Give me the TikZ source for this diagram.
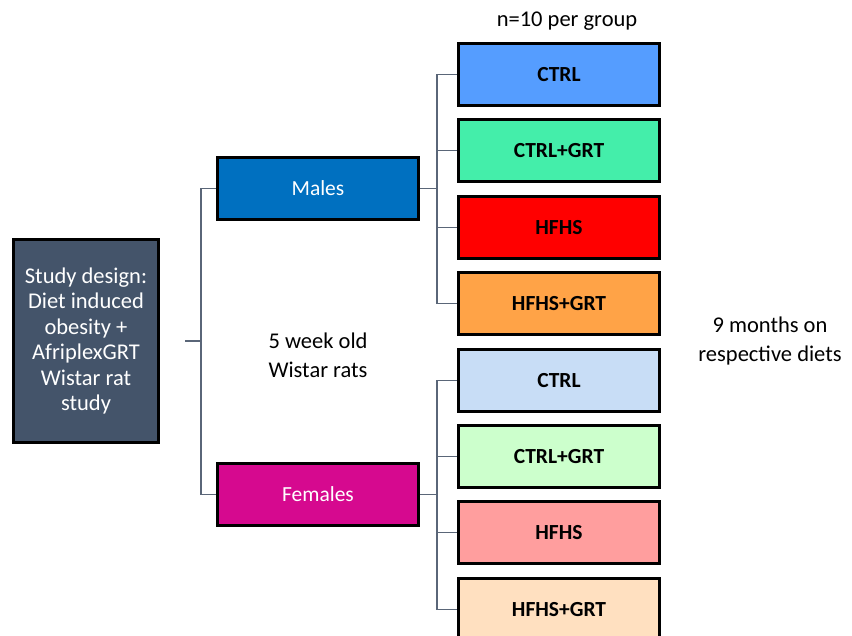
\documentclass[tikz,border=0pt]{standalone}
\usepackage{fontspec}
\setmainfont{Carlito}
\definecolor{slate}{HTML}{44546A}
\definecolor{line}{HTML}{5A6678}
\definecolor{males}{HTML}{0070C0}
\definecolor{females}{HTML}{D6098F}
\definecolor{mA}{HTML}{559DFF}
\definecolor{mB}{HTML}{44EEAA}
\definecolor{mC}{HTML}{FF0000}
\definecolor{mD}{HTML}{FFA347}
\definecolor{fA}{HTML}{C8DDF6}
\definecolor{fB}{HTML}{CCFFCC}
\definecolor{fC}{HTML}{FF9E9E}
\definecolor{fD}{HTML}{FFE0C0}
\tikzset{
  box/.style={draw=black, line width=3pt, inner sep=0pt, anchor=north west},
  grp/.style={box, minimum width=201pt, minimum height=62pt, text=white, font=\fontsize{21.5}{25}\selectfont},
  diet/.style={box, minimum width=201pt, minimum height=62pt, text=black, font=\bfseries\fontsize{21.5}{25}\selectfont},
  conn/.style={draw=line, line width=1.6pt},
  lbl/.style={align=center, font=\fontsize{22.5}{29}\selectfont}
}
\begin{document}
\begin{tikzpicture}[x=1pt,y=-1pt]
\useasboundingbox (0,0) rectangle (852,635);
\node[box, fill=slate, minimum width=145pt, minimum height=203pt, text=white, align=center, font=\fontsize{22.5}{25.5}\selectfont] (study) at (12,238) {Study design:\\Diet induced\\obesity +\\AfriplexGRT\\Wistar rat\\study};
\node[grp, fill=males] (males) at (216,156) {Males};
\node[grp, fill=females] (females) at (216,462) {Females};
\node[diet, fill=mA] (m1) at (457,42) {CTRL};
\node[diet, fill=mB] (m2) at (457,118) {CTRL+GRT};
\node[diet, fill=mC] (m3) at (457,195) {HFHS};
\node[diet, fill=mD] (m4) at (457,271) {HFHS+GRT};
\node[diet, fill=fA] (f1) at (457,348) {CTRL};
\node[diet, fill=fB] (f2) at (457,424) {CTRL+GRT};
\node[diet, fill=fC] (f3) at (457,500) {HFHS};
\node[diet, fill=fD] (f4) at (457,577) {HFHS+GRT};
\node[lbl] (age) at (318,355) {5 week old\\Wistar rats};
\node[lbl] (n) at (567,21) {n=10 per group};
\node[lbl] (months) at (770,341) {9 months on\\respective diets};
\coordinate (s0) at (185,341);
\coordinate (s1) at (201,341);
\coordinate (mj) at (437,187);
\coordinate (fj) at (437,492);
% study tree
\draw[conn] (s0) -- (s1);
\draw[conn] (males.west) -| (s1) |- (females.west);
% males tree
\draw[conn] (males.east) -- (males.east -| mj);
\draw[conn] (m1.west) -| (mj) |- (m4.west);
\draw[conn] (m2.west) -- (m2.west -| mj);
\draw[conn] (m3.west) -- (m3.west -| mj);
% females tree
\draw[conn] (females.east) -- (females.east -| fj);
\draw[conn] (f1.west) -| (fj) |- (f4.west);
\draw[conn] (f2.west) -- (f2.west -| fj);
\draw[conn] (f3.west) -- (f3.west -| fj);
\end{tikzpicture}
\end{document}
